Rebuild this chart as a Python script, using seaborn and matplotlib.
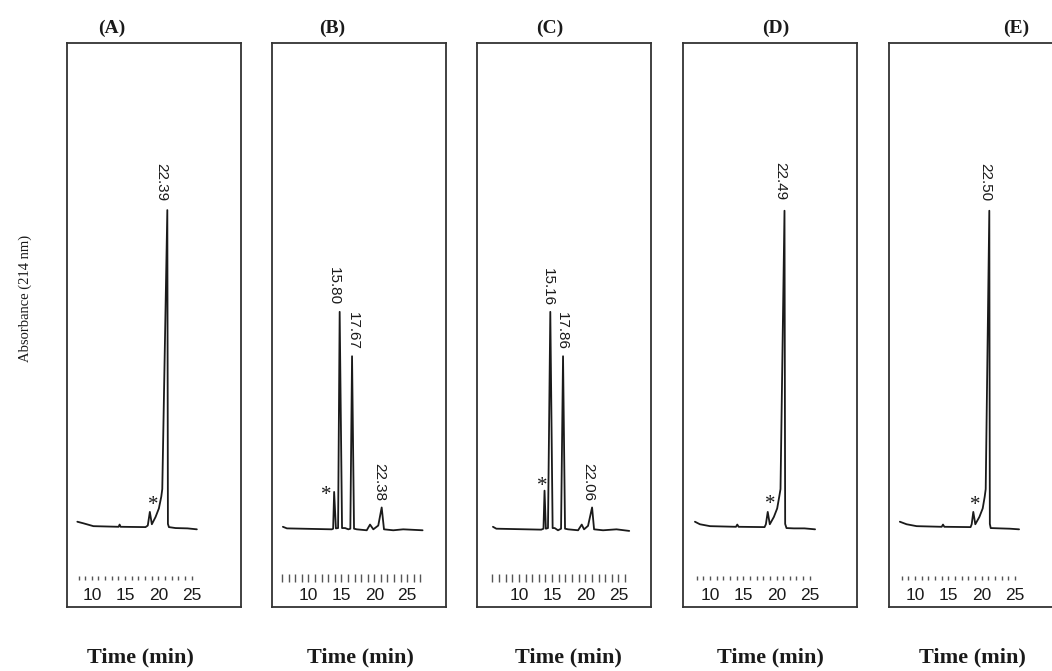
import matplotlib
matplotlib.use("Agg")
import matplotlib.pyplot as plt
import seaborn as sns
import pandas as pd

# retention time (min) / absorbance (arbitrary units)
time_a = [7.82, 8.73, 10.24, 14.03, 14.18, 14.33, 18.08, 18.42, 18.73, 19.03,
          19.59, 20.09, 20.45, 20.6, 21.36, 21.45, 21.6, 22.6, 24.4, 25.8]
abs_a = [1.7, 1.2, 0.3, 0.1, 0.8, 0.1, 0.0, 0.5, 4.8, 0.9,
         3.2, 5.9, 9.6, 12.0, 100.0, 1.0, 0.0, -0.3, -0.4, -0.7]

time_b = [6.12, 6.73, 13.55, 13.75, 13.9, 14.17, 14.5, 14.74, 15.1, 15.56,
          16.06, 16.36, 16.62, 16.92, 17.33, 18.85, 19.35, 19.85, 20.6, 21.12,
          21.47, 22.88, 24.39, 27.33]
abs_b = [0.1, -0.4, -0.7, -0.5, 11.1, -0.4, -0.3, 67.9, -0.3, -0.3,
         -0.7, -0.5, 53.9, -0.5, -0.7, -1.0, 0.8, -0.7, 0.5, 6.2,
         -0.7, -1.0, -0.7, -1.0]

time_c = [6.08, 6.59, 13.36, 13.7, 13.86, 14.06, 14.38, 14.73, 15.08, 15.39,
          15.89, 16.35, 16.65, 16.95, 17.41, 18.92, 19.47, 19.82, 20.42, 21.03,
          21.33, 22.69, 24.71, 26.63]
abs_c = [0.1, -0.5, -0.8, -0.5, 11.5, -0.5, -0.3, 67.9, -0.3, -0.3,
         -1.0, -0.5, 53.9, -0.5, -0.7, -1.0, 0.8, -0.7, 0.4, 6.2,
         -0.7, -1.0, -0.7, -1.2]

time_d = [7.73, 8.48, 10.0, 13.9, 14.1, 14.3, 18.2, 18.4, 18.68, 18.99,
          19.6, 20.1, 20.41, 20.6, 21.2, 21.3, 21.5, 22.6, 24.2, 25.8]
abs_d = [1.7, 0.9, 0.3, 0.1, 0.8, 0.1, 0.0, 0.9, 4.8, 0.9,
         3.2, 5.9, 9.6, 12.0, 99.8, 1.0, -0.3, -0.4, -0.4, -0.7]

time_e = [7.73, 8.74, 10.25, 14.0, 14.2, 14.4, 18.33, 18.5, 18.74, 19.04,
          19.65, 20.15, 20.45, 20.6, 21.14, 21.22, 21.35, 22.7, 24.2, 25.6]
abs_e = [1.7, 0.9, 0.3, 0.1, 0.8, 0.1, 0.0, 0.9, 4.8, 0.9,
         3.2, 5.9, 9.6, 12.0, 99.8, 1.0, -0.3, -0.4, -0.5, -0.7]

panel_names = ["(A)", "(B)", "(C)", "(D)", "(E)"]
traces = [(time_a, abs_a), (time_b, abs_b), (time_c, abs_c),
          (time_d, abs_d), (time_e, abs_e)]

# time scale printed inside each panel
scale_labels = [10, 15, 20, 25]
scale_start = [8, 6, 6, 8, 8]
scale_end = [25, 27, 26, 25, 25]

# peak retention-time labels: (text, time, absorbance)
peak_labels = [
    [("22.39", 20.47, 108.9)],
    [("15.80", 13.9, 75.9), ("17.67", 16.7, 61.9), ("22.38", 20.7, 14.3)],
    [("15.16", 14.3, 75.7), ("17.86", 16.5, 61.8), ("22.06", 20.5, 14.3)],
    [("22.49", 20.6, 109.2)],
    [("22.50", 20.6, 108.9)],
]
star_pos = [(19.24, 6.9), (12.76, 9.9), (13.5, 12.7), (19.1, 7.1), (19.0, 6.9)]

# layout (pixels in a 1052 x 671 figure)
W, H = 1052, 671
box_left = [66.7, 271.7, 476.7, 683.3, 889.3]
box_width = 174
box_top, box_bottom = 42.7, 607
xlims = [(6.22, 32.4), (4.42, 30.84), (3.63, 29.87), (5.98, 32.15), (6.15, 32.23)]
ylim = (-25.2, 152.8)
title_x = [112, 332, 550, 776, 1016]
xlabel_x = [140, 360, 568, 770, 972]

sns.set_style("white")
fig = plt.figure(figsize=(W / 100, H / 100), dpi=100)

serif = "Liberation Serif"
sans = "Liberation Sans"
ink = "#1a1a1a"

for i in range(5):
    ax = fig.add_axes([box_left[i] / W, 1 - box_bottom / H,
                       box_width / W, (box_bottom - box_top) / H])
    t, a = traces[i]
    df = pd.DataFrame({"time": t, "abs": a})
    sns.lineplot(data=df, x="time", y="abs", ax=ax, sort=False,
                 estimator=None, color=ink, lw=1.3)
    ax.set_xlim(*xlims[i])
    ax.set_ylim(*ylim)
    ax.set_xticks([])
    ax.set_yticks([])
    ax.set_xlabel("")
    ax.set_ylabel("")
    for s in ax.spines.values():
        s.set_color("#333333")
        s.set_linewidth(1.3)

    # minute ticks and their labels drawn inside the frame
    minutes = list(range(scale_start[i], scale_end[i] + 1))
    tall = i in (1, 2)
    ax.vlines(minutes, -17.2 if tall else -16.8, -14.8 if tall else -15.4,
              color="#555555", lw=1.0)
    for v in scale_labels:
        ax.text(v, -21.7, str(v), ha="center", va="center",
                family=sans, fontsize=12.5, color=ink)

    for txt, tx, ay in peak_labels[i]:
        ax.text(tx, ay, txt, rotation=270, ha="center", va="center",
                family=sans, fontsize=11, color=ink)
    sx, sy = star_pos[i]
    ax.text(sx, sy, "*", ha="center", va="center", family=serif,
            fontsize=15, color=ink)

    fig.text(title_x[i] / W, 1 - 28 / H, panel_names[i], ha="center",
             va="center", family=serif, fontsize=14, fontweight="bold",
             color=ink)
    fig.text(xlabel_x[i] / W, 1 - 657 / H, "Time (min)", ha="center",
             va="center", family=serif, fontsize=16, fontweight="bold",
             color=ink)

fig.text(25 / W, 1 - 298 / H, "Absorbance (214 nm)", rotation=90,
         ha="center", va="center", family=serif, fontsize=10.5, color=ink)

fig.savefig("out.png", dpi=100)
plt.close(fig)
